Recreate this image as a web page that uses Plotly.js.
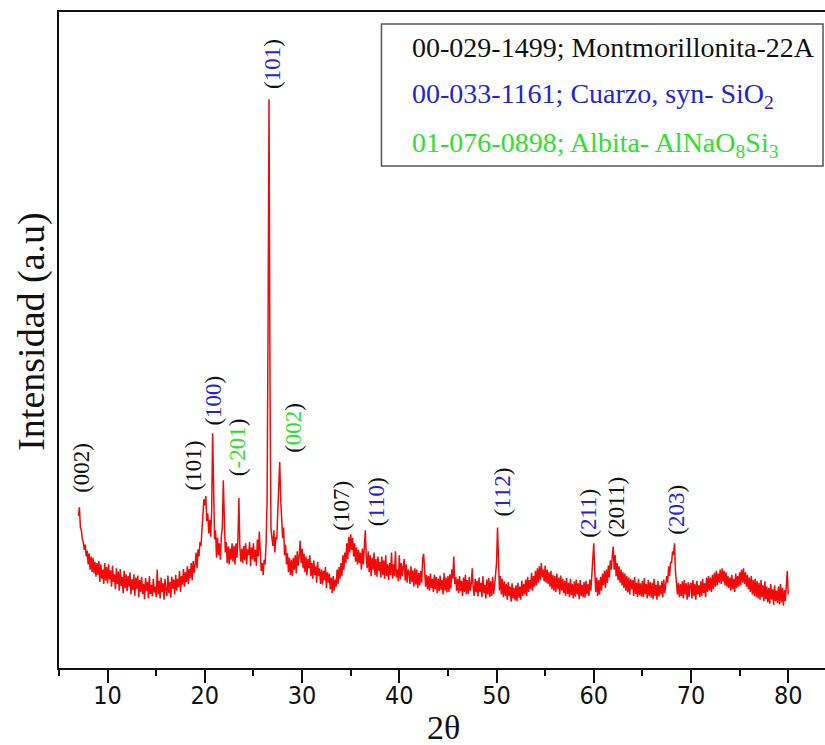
<!DOCTYPE html>
<html>
<head>
<meta charset="utf-8">
<script src="https://cdn.plot.ly/plotly-3.0.1.min.js"></script>
<style>
html,body{margin:0;padding:0;background:#fff;overflow:hidden;}
#chart{width:825px;height:745px;}
</style>
</head>
<body>
<div id="chart"></div>
<script>
// 2θ grid of the scan
const twoThetaStart = 7.0;
const twoThetaStep = 0.1;

// Intensity (a.u.), one value per 0.1° from 7.0° to 80.0°
const intensity = [
232,245,214,210,196,192,180,188,170,179,
158,175,150,170,146,168,144,162,139,160,
142,163,131,158,136,150,128,160,133,154,
129,158,135,149,124,156,131,143,120,152,
128,147,118,151,125,139,114,148,122,143,
117,140,124,146,112,135,119,143,110,138,
121,141,108,134,116,139,113,128,105,137,
118,131,106,140,113,127,109,136,115,124,
108,150,112,133,106,138,116,129,104,136,
119,110,141,114,131,107,139,121,135,112,
142,118,136,123,148,116,140,127,151,124,
146,131,155,128,151,137,160,134,163,145,
158,176,152,181,170,192,186,214,228,257,
248,262,224,236,205,226,200,240,358,255,
196,210,168,199,172,190,165,201,214,286,
228,176,192,160,185,158,182,165,190,162,
186,158,190,168,196,259,185,162,182,160,
186,164,190,158,181,172,192,155,184,166,
190,162,180,156,196,170,208,178,148,160,
142,165,158,192,255,520,867,430,212,198,
186,210,176,200,196,238,282,314,258,232,
198,214,172,188,158,175,146,168,142,165,
140,168,150,172,144,178,156,170,194,160,
182,152,174,146,170,141,166,152,172,140,
160,136,164,142,155,130,162,140,152,128,
150,127,148,134,154,122,146,130,144,120,
138,114,140,118,135,124,150,128,154,136,
160,140,172,150,176,160,190,166,200,176,
204,180,198,170,190,162,184,158,180,160,
176,150,182,158,186,210,170,152,178,146,
172,140,168,150,176,142,166,139,170,148,
162,138,170,142,164,136,172,140,158,134,
160,142,176,136,158,140,178,138,150,132,
172,135,160,140,154,166,133,158,130,150,
146,128,155,131,149,124,152,127,150,122,
145,126,148,130,166,174,150,124,142,120,
140,118,144,122,136,116,142,120,139,114,
136,117,141,119,134,112,145,118,138,115,
140,116,143,121,150,136,170,128,139,118,
136,114,140,117,133,110,138,116,142,112,
134,113,139,118,128,152,122,110,136,115,
133,109,138,116,130,108,140,114,127,106,
135,112,137,108,132,110,139,113,126,140,
160,214,146,118,140,112,136,108,132,110,
128,104,131,110,124,101,129,106,122,103,
126,102,130,107,124,104,133,110,128,112,
135,110,139,116,134,120,145,118,140,124,
148,126,152,130,155,134,160,138,150,132,
156,130,150,128,146,124,148,120,142,118,
140,116,144,120,138,112,141,118,136,114,
133,110,137,113,130,108,136,111,128,106,
132,109,135,112,129,105,134,110,127,108,
131,107,133,112,128,110,135,118,142,160,
190,148,116,138,110,134,112,139,118,144,
126,148,122,150,130,156,138,164,150,170,
185,150,172,140,160,134,155,130,150,126,
146,122,144,118,140,115,138,112,136,120,
134,110,139,113,130,108,136,111,129,109,
133,108,137,112,128,106,134,110,131,107,
130,105,136,110,127,104,133,109,126,112,
132,108,135,114,128,140,130,155,140,162,
160,178,172,190,148,126,112,130,108,128,
110,132,106,134,112,129,104,131,108,127,
130,106,134,110,128,104,133,112,126,108,
132,110,136,114,129,108,138,116,140,118,
138,116,142,120,145,124,148,126,144,130,
150,128,152,132,148,126,146,124,140,122,
138,118,142,120,136,116,144,122,140,124,
146,126,150,130,152,128,146,124,142,120,
138,116,140,112,134,110,136,108,132,106,
130,104,134,108,126,102,132,105,124,100,
122,98,128,104,120,96,126,102,118,99,
124,97,128,100,122,95,119,102,130,148,
112
];

// Reflection labels (Miller indices) and the phase they belong to
const peakLabels = ["002","101","100","-201","101","002","107","110","112","211","2011","203"];
const peakPhase  = ["M","M","Q","A","Q","A","M","Q","Q","Q","M","Q"];
const peakLabelX = [7.36,18.8,20.86,23.43,27.03,29.16,34.08,37.6,50.6,59.46,62.3,68.5];
const peakLabelY = [305,309,408,337,921,366,247,254,268,236,245,242];

// Reference cards (legend)
const cardText = [
  "00-029-1499; Montmorillonita-22A",
  "00-033-1161; Cuarzo, syn- SiO<sub>2</sub>",
  "01-076-0898; Albita- AlNaO<sub>8</sub>Si<sub>3</sub>"
];
const cardPhase = ["M","Q","A"];

const phaseColor = {M:"#111111", Q:"#2424d6", A:"#2ee02e"};
const serif = "Liberation Serif, Times New Roman, serif";

const annotations = [];
peakLabels.forEach((lab, i) => {
  annotations.push({
    x: peakLabelX[i], y: peakLabelY[i], xref: "x", yref: "y",
    text: '(<span style="color:' + phaseColor[peakPhase[i]] + '">' + lab + '</span>)',
    textangle: -90, showarrow: false, xanchor: "center", yanchor: "middle",
    font: {family: serif, size: 23, color: "#111"}
  });
});

const cardRowY = [0.946, 0.872, 0.7987];
cardText.forEach((t, i) => {
  annotations.push({
    x: 0.4582, y: cardRowY[i], xref: "paper", yref: "paper",
    text: t, showarrow: false, xanchor: "left", yanchor: "middle", align: "left",
    font: {family: serif, size: 28, color: phaseColor[cardPhase[i]]}
  });
});

annotations.push({
  x: -0.037, y: 0.512, xref: "paper", yref: "paper", text: "Intensidad (a.u)",
  textangle: -90, showarrow: false, xanchor: "center", yanchor: "middle",
  font: {family: serif, size: 38, color: "#111"}
});
annotations.push({
  x: 0.5026, y: -0.0904, xref: "paper", yref: "paper", text: "2θ",
  showarrow: false, xanchor: "center", yanchor: "middle",
  font: {family: serif, size: 34, color: "#111"}
});

const trace = {
  type: "scatter", mode: "lines",
  x0: twoThetaStart, dx: twoThetaStep, y: intensity,
  line: {color: "#f20a0a", width: 1.5},
  hoverinfo: "skip"
};

const layout = {
  width: 825, height: 745,
  margin: {l: 59, r: 0, t: 12, b: 77},
  paper_bgcolor: "#fff", plot_bgcolor: "#fff",
  showlegend: false,
  xaxis: {
    range: [5, 83.78], tick0: 0, dtick: 10,
    ticks: "outside", ticklen: 13, tickwidth: 2, tickcolor: "#111",
    ticklabelstandoff: -9,
    showline: true, linewidth: 2, linecolor: "#111", mirror: true,
    showgrid: false, zeroline: false,
    tickfont: {family: "DejaVu Sans Condensed, Liberation Sans, Arial, sans-serif", size: 25, color: "#111"},
    minor: {tick0: 0, dtick: 5, ticks: "outside", ticklen: 6, tickwidth: 2, tickcolor: "#111", showgrid: false}
  },
  yaxis: {
    range: [0, 1000], showticklabels: false, ticks: "",
    showline: true, linewidth: 2, linecolor: "#111", mirror: false,
    showgrid: false, zeroline: false
  },
  shapes: [{
    type: "rect", xref: "paper", yref: "paper",
    x0: 0.421, x1: 0.9974, y0: 0.7651, y1: 0.9817,
    line: {color: "#555", width: 1.5}, fillcolor: "rgba(0,0,0,0)"
  }],
  annotations: annotations
};

Plotly.newPlot("chart", [trace], layout, {displayModeBar: false, staticPlot: true});
</script>
</body>
</html>
